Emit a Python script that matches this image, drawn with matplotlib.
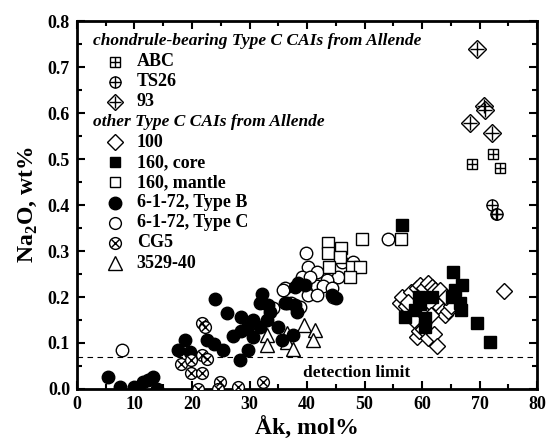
import matplotlib
matplotlib.use("Agg")
import matplotlib.pyplot as plt
from matplotlib.ticker import MultipleLocator

plt.rcParams['font.family'] = ['Liberation Serif', 'DejaVu Serif']
plt.rcParams['mathtext.fontset'] = 'custom'
plt.rcParams['mathtext.rm'] = 'Liberation Serif:bold'
plt.rcParams['mathtext.bf'] = 'Liberation Serif:bold'

# ---------------- data ----------------
abc_x = [68.7, 72.4, 73.6]
abc_y = [0.49, 0.51, 0.48]

ts26_x = [72.2, 72.8, 73.1]
ts26_y = [0.40, 0.38, 0.38]

s93_x = [69.5, 70.7, 70.9, 68.3, 72.2]
s93_y = [0.74, 0.615, 0.607, 0.578, 0.557]

s100_x = [56.2, 56.6, 57.2, 58.0, 58.2, 59.2, 59.7, 60.4, 61.0, 61.7, 62.0, 62.6,
          63.0, 63.6, 64.0, 64.5, 65.0, 59.1, 59.5, 60.2, 61.0, 62.0, 62.6, 58.6,
          61.2, 62.2, 60.0, 61.6, 63.2, 64.2, 57.5, 74.3]
s100_y = [0.187, 0.20, 0.18, 0.21, 0.16, 0.22, 0.226, 0.22, 0.23, 0.222, 0.20, 0.19,
          0.18, 0.17, 0.16, 0.17, 0.18, 0.113, 0.125, 0.13, 0.11, 0.12, 0.093, 0.15,
          0.19, 0.215, 0.17, 0.16, 0.215, 0.20, 0.19, 0.214]

core_x = [56.5, 59.5, 57.0, 58.8, 60.5, 60.5, 61.8, 59.6, 65.4, 67.0, 65.7, 66.6,
          66.7, 65.2, 69.6, 71.8]
core_y = [0.357, 0.20, 0.156, 0.172, 0.154, 0.135, 0.20, 0.185, 0.255, 0.226, 0.215,
          0.186, 0.172, 0.20, 0.144, 0.103]

mantle_x = [43.6, 43.7, 45.9, 45.7, 49.5, 43.8, 47.8, 49.2, 47.5, 56.3]
mantle_y = [0.317, 0.296, 0.306, 0.287, 0.326, 0.265, 0.266, 0.265, 0.244, 0.326]

typeb_x = [5.4, 7.5, 9.9, 10.5, 11.4, 12.3, 13.2, 13.9,
           17.6, 18.8, 19.7, 22.6, 23.8, 24.0, 25.4, 26.0, 27.1, 28.6, 28.6, 28.3,
           29.5, 29.7, 30.6, 30.6, 31.8, 31.8, 32.1, 33.2, 33.6, 33.0, 35.0, 35.6,
           37.6, 36.5, 37.9, 38.4, 38.2, 36.2, 37.9, 39.7, 44.3, 45.0]
typeb_y = [0.026, 0.004, 0.004, 0.002, 0.016, 0.019, 0.026, 0.0,
           0.085, 0.107, 0.081, 0.107, 0.098, 0.196, 0.085, 0.166, 0.115, 0.157, 0.125, 0.063,
           0.133, 0.085, 0.114, 0.15, 0.135, 0.187, 0.207, 0.183, 0.168, 0.15, 0.135, 0.107,
           0.117, 0.187, 0.222, 0.23, 0.168, 0.187, 0.183, 0.226, 0.204, 0.198]

typec_x = [7.8, 39.9, 40.2, 41.7, 39.1, 46.0, 48.0, 45.4, 43.4, 41.7, 42.8, 36.2,
           40.2, 44.3, 44.6, 38.8, 41.7, 37.3, 35.8, 34.1, 40.5, 54.1]
typec_y = [0.085, 0.296, 0.266, 0.255, 0.244, 0.277, 0.277, 0.244, 0.237, 0.224, 0.224, 0.219,
           0.204, 0.219, 0.20, 0.179, 0.204, 0.187, 0.215, 0.176, 0.244, 0.326]

cg5_x = [21.7, 22.3, 18.0, 19.9, 21.7, 22.6, 19.9, 21.7, 21.0, 24.9, 24.5, 28.0, 32.3]
cg5_y = [0.144, 0.135, 0.054, 0.063, 0.074, 0.065, 0.035, 0.035, 0.0, 0.016, 0.0, 0.004, 0.016]

t3529_x = [33.0, 33.0, 36.5, 36.5, 37.6, 39.4, 41.4, 41.0]
t3529_y = [0.117, 0.096, 0.121, 0.103, 0.087, 0.139, 0.128, 0.107]

detection_limit = 0.07

# ---------------- figure ----------------
fig = plt.figure(figsize=(5.48, 4.41), dpi=100)
ax = fig.add_axes([0.1405, 0.118, 0.8395, 0.834])

ms = 8.5
ew = 1.0
open_kw = dict(ls='none', mfc='white', mec='black', mew=ew)
fill_kw = dict(ls='none', mfc='black', mec='black', mew=ew)

def crossed(x, y, base, overlay, size, osize):
    ax.plot(x, y, marker=base, ms=size, **open_kw, zorder=3)
    ax.plot(x, y, marker=overlay, ms=osize, ls='none', color='black', mew=ew, zorder=3.1)

ax.plot(t3529_x, t3529_y, marker='^', ms=10, **open_kw, zorder=2)
crossed(cg5_x, cg5_y, 'o', 'x', ms, 6)
ax.plot(typec_x, typec_y, marker='o', ms=ms + 0.5, **open_kw, zorder=2)
ax.plot(typeb_x, typeb_y, marker='o', ms=ms + 0.5, **fill_kw, zorder=2.5)
ax.plot(mantle_x, mantle_y, marker='s', ms=8, **open_kw, zorder=2)
ax.plot(s100_x, s100_y, marker='D', ms=8, **open_kw, zorder=2)
ax.plot(core_x, core_y, marker='s', ms=8, **fill_kw, zorder=2.5)
crossed(abc_x, abc_y, 's', '+', 7, 7)
crossed(ts26_x, ts26_y, 'o', '+', 8, 8)
crossed(s93_x, s93_y, 'D', '+', 9, 10)

ax.axhline(detection_limit, color='black', lw=0.8, ls=(0, (5, 4)), zorder=1)
ax.text(48.7, 0.035, 'detection limit', ha='center', va='center',
        fontsize=12.5, fontweight='bold')

ax.set_xlim(0, 80)
ax.set_ylim(0, 0.8)
ax.xaxis.set_major_locator(MultipleLocator(10))
ax.xaxis.set_minor_locator(MultipleLocator(5))
ax.yaxis.set_major_locator(MultipleLocator(0.1))
ax.yaxis.set_minor_locator(MultipleLocator(0.05))
ax.yaxis.set_major_formatter(matplotlib.ticker.FormatStrFormatter('%.1f'))
ax.tick_params(which='both', direction='in', top=True, right=True, width=1.5)
ax.tick_params(which='major', length=6, labelsize=13, pad=5)
ax.tick_params(which='minor', length=3.5)
for lab in ax.get_xticklabels() + ax.get_yticklabels():
    lab.set_fontweight('bold')
for sp in ax.spines.values():
    sp.set_linewidth(2)

ax.set_xlabel('Åk, mol%', fontsize=17, fontweight='bold', labelpad=3)
ax.set_ylabel(r'Na$_2$O, wt%', fontsize=17, fontweight='bold', labelpad=6)

# ---------------- legend (manual) ----------------
tr = ax.transAxes
hx = 0.035
mx = 0.083
tx = 0.13
rows = [
    ('head', 'chondrule-bearing Type C CAIs from Allende'),
    ('abc', 'ABC'), ('ts26', 'TS26'), ('93', '93'),
    ('head', 'other Type C CAIs from Allende'),
    ('100', '100'), ('core', '160, core'), ('mantle', '160, mantle'),
    ('typeb', '6-1-72, Type B'), ('typec', '6-1-72, Type C'),
    ('cg5', 'CG5'), ('t3529', '3529-40'),
]
y0 = 0.945
dy = 0.0548
for i, (key, label) in enumerate(rows):
    yy = y0 - i * dy
    if key == 'head':
        ax.text(hx, yy, label, transform=tr, fontsize=12.5, fontweight='bold',
                fontstyle='italic', va='center', ha='left')
        continue
    ax.text(tx, yy, label, transform=tr, fontsize=13, fontweight='bold',
            va='center', ha='left')
    kw = dict(transform=tr, clip_on=False)
    if key == 'abc':
        ax.plot([mx], [yy], marker='s', ms=7, **open_kw, **kw)
        ax.plot([mx], [yy], marker='+', ms=7, color='black', mew=ew, **kw)
    elif key == 'ts26':
        ax.plot([mx], [yy], marker='o', ms=8, **open_kw, **kw)
        ax.plot([mx], [yy], marker='+', ms=8, color='black', mew=ew, **kw)
    elif key == '93':
        ax.plot([mx], [yy], marker='D', ms=8, **open_kw, **kw)
        ax.plot([mx], [yy], marker='+', ms=9, color='black', mew=ew, **kw)
    elif key == '100':
        ax.plot([mx], [yy], marker='D', ms=8, **open_kw, **kw)
    elif key == 'core':
        ax.plot([mx], [yy], marker='s', ms=7, **fill_kw, **kw)
    elif key == 'mantle':
        ax.plot([mx], [yy], marker='s', ms=7, **open_kw, **kw)
    elif key == 'typeb':
        ax.plot([mx], [yy], marker='o', ms=ms + 0.5, **fill_kw, **kw)
    elif key == 'typec':
        ax.plot([mx], [yy], marker='o', ms=ms, **open_kw, **kw)
    elif key == 'cg5':
        ax.plot([mx], [yy], marker='o', ms=ms, **open_kw, **kw)
        ax.plot([mx], [yy], marker='x', ms=6, color='black', mew=ew, **kw)
    elif key == 't3529':
        ax.plot([mx], [yy], marker='^', ms=10, **open_kw, **kw)

fig.savefig('out.png', dpi=100)
